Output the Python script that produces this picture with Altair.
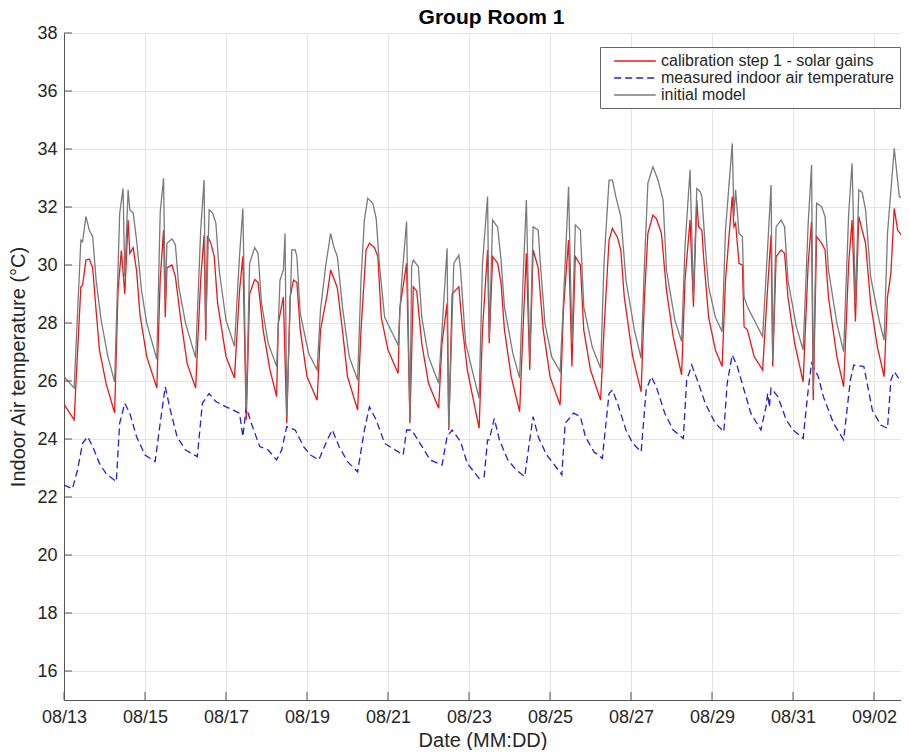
import altair as alt
import pandas as pd

# ---------------- data ----------------
series_names = [
    "calibration step 1 - solar gains",
    "measured indoor air temperature",
    "initial model",
]
series_colors = ["#f01414", "#1f1fe0", "#7a7a7a"]
series_dashes = [[1, 0], [7, 4], [1, 0]]
series_widths = [1.3, 1.3, 1.0]

start_date = "2017-08-13"
end_hours = 496  # last hour shown at the right edge

# calibration step 1 - solar gains (hours since 08/13 00:00, degC)
red_hours = [0, 6, 10, 11, 13, 15, 17, 19, 21, 25, 30,
             32, 34, 36, 38, 39, 41, 43, 45, 49, 55,
             57, 59, 60, 61, 64, 66, 69, 73, 78,
             81, 83, 84, 85, 87, 89, 91, 96, 101,
             104, 106, 108, 110, 113, 115, 118, 122, 126,
             127, 130, 132, 134, 136, 138, 140, 144, 150,
             152, 156, 158, 161, 162, 165, 168, 174,
             176, 179, 181, 184, 186, 188, 192, 198,
             199, 203, 205, 207, 209, 212, 216, 222,
             224, 227, 228, 230, 234, 236, 239, 246,
             248, 251, 252, 254, 257, 259, 261, 265, 270,
             272, 274, 276, 278, 281, 284, 288, 294,
             296, 299, 301, 303, 306, 308, 312, 318,
             320, 323, 325, 328, 330, 332, 337, 342,
             344, 346, 349, 351, 354, 357, 361, 366,
             368, 371, 373, 375, 376, 378, 379, 382, 386, 390,
             392, 396, 397, 398, 400, 402, 403, 405, 409, 414,
             417, 419, 420, 422, 425, 427, 429, 433, 438,
             441, 443, 444, 446, 449, 451, 453, 458, 462,
             465, 467, 469, 471, 473, 475, 478, 482, 486,
             488, 490, 492, 494, 497, 498, 500]
red_temp = [25.2, 24.66, 29.25, 29.3, 30.17, 30.2, 29.9, 28.45, 27.07, 25.9, 24.9,
            29.1, 30.5, 29.0, 31.55, 30.4, 30.6, 29.8, 28.3, 26.85, 25.76,
            29.5, 31.2, 28.2, 29.9, 30.0, 29.6, 28.2, 26.6, 25.76,
            29.5, 31.03, 27.4, 31.0, 30.76, 30.3, 28.7, 26.84, 26.1,
            29.1, 30.3, 24.66, 29.0, 29.5, 29.4, 27.76, 26.4, 25.46,
            27.99, 28.9, 24.54, 28.9, 29.48, 29.4, 27.76, 26.15, 25.34,
            27.76, 29.0, 29.83, 29.37, 29.2, 27.76, 26.15, 25.0,
            27.76, 30.52, 30.75, 30.6, 30.29, 28.2, 27.07, 26.26,
            28.5, 30.06, 24.54, 29.25, 29.1, 27.3, 25.92, 25.06,
            27.3, 28.68, 24.31, 29.0, 29.25, 27.9, 26.38, 24.37,
            27.76, 30.52, 27.3, 30.29, 30.06, 29.37, 27.76, 26.15, 24.94,
            27.76, 30.4, 26.38, 30.52, 29.9, 27.76, 26.15, 25.17,
            28.5, 30.86, 26.5, 30.29, 30.0, 27.76, 26.38, 25.34,
            27.76, 30.86, 31.26, 30.95, 30.5, 28.9, 26.84, 25.63,
            28.9, 31.09, 31.72, 31.6, 31.1, 29.14, 27.53, 26.21,
            29.48, 31.55, 28.56, 32.24, 31.32, 31.2, 30.29, 28.2, 27.07, 26.5,
            29.48, 32.36, 31.32, 31.44, 30.06, 30.0, 27.87, 27.76, 26.84, 26.38,
            29.25, 31.03, 26.5, 30.29, 30.52, 30.4, 28.9, 27.3, 25.97,
            30.06, 31.5, 25.34, 30.98, 30.75, 30.52, 28.9, 26.84, 25.8,
            30.06, 31.55, 28.05, 31.67, 31.2, 30.75, 28.68, 27.18, 26.15,
            28.9, 29.7, 31.95, 31.2, 30.98, 31.2, 28.3]

# measured indoor air temperature
blue_hours = [0, 5, 8, 11, 14, 17, 21, 25, 31,
              33, 36, 39, 43, 48, 54,
              57, 60, 63, 67, 72, 79,
              82, 86, 90, 96, 104, 106, 108, 111, 116, 121, 126,
              129, 132, 137, 142, 146, 151,
              156, 159, 163, 168, 174,
              178, 181, 185, 190, 201,
              203, 206, 211, 217, 224,
              227, 230, 235, 239, 246,
              249, 251, 252, 255, 258, 263, 268, 273,
              276, 278, 281, 286, 290, 295,
              297, 302, 306, 309, 314, 319,
              323, 325, 328, 333, 337, 342,
              345, 348, 351, 356, 361, 367,
              369, 372, 376, 380, 386, 391,
              393, 396, 399, 403, 407, 413,
              416, 417, 418, 419, 423, 428, 432, 438,
              441, 443, 447, 450, 456, 462,
              466, 468, 474, 476, 479, 484, 488,
              490, 492, 496, 500]
blue_temp = [22.41, 22.28, 22.93, 23.85, 24.08, 23.74, 23.16, 22.8, 22.53,
             24.55, 25.23, 24.89, 24.08, 23.45, 23.22,
             24.55, 25.8, 25.0, 24.08, 23.62, 23.39,
             25.23, 25.57, 25.29, 25.11, 24.89, 24.08, 25.1, 24.54, 23.74, 23.62, 23.28,
             23.62, 24.43, 24.31, 23.74, 23.45, 23.28,
             23.97, 24.31, 23.74, 23.22, 22.87,
             24.31, 25.11, 24.66, 23.85, 23.45,
             24.31, 24.31, 23.85, 23.28, 23.1,
             24.08, 24.31, 23.91, 23.16, 22.64,
             22.7, 23.97, 23.97, 24.71, 23.97, 23.28, 22.93, 22.7,
             23.97, 24.77, 24.08, 23.45, 23.16, 22.76,
             24.54, 24.89, 24.77, 24.08, 23.56, 23.33,
             25.57, 25.69, 25.23, 24.31, 23.85, 23.56,
             25.69, 26.15, 25.8, 24.89, 24.31, 24.02,
             26.03, 26.55, 25.92, 25.23, 24.54, 24.25,
             25.92, 26.9, 26.5, 25.69, 24.89, 24.31,
             25.11, 25.57, 25.1, 25.75, 25.46, 24.66, 24.31, 24.02,
             25.69, 26.61, 26.15, 25.46, 24.54, 23.97,
             26.03, 26.55, 26.5, 25.9, 25.0, 24.48, 24.37,
             26.03, 26.32, 25.97, 25.75]

# initial model
gray_hours = [0, 6, 10, 11, 13, 15, 17, 19, 22, 26, 30,
              33, 35, 36, 38, 39, 41, 43, 46, 49, 55,
              57, 59, 60, 61, 64, 66, 68, 72, 78,
              81, 83, 84, 86, 88, 90, 92, 96, 101,
              104, 106, 108, 110, 113, 115, 117, 121, 126,
              128, 130, 131, 132, 135, 137, 138, 140, 145, 150,
              152, 155, 158, 160, 162, 165, 169, 174,
              176, 178, 180, 183, 185, 187, 190, 198,
              200, 203, 205, 206, 207, 210, 212, 216, 222,
              224, 227, 228, 231, 234, 235, 238, 246,
              248, 251, 252, 254, 257, 259, 261, 266, 270,
              272, 274, 276, 278, 281, 282, 285, 289, 294,
              297, 299, 301, 303, 306, 308, 313, 318,
              320, 323, 325, 327, 330, 333, 338, 342,
              344, 346, 349, 352, 355, 357, 362, 366,
              368, 371, 373, 375, 377, 378, 380, 382, 386, 390,
              392, 396, 397, 398, 400, 402, 403, 405, 410, 414,
              417, 419, 420, 422, 425, 427, 429, 434, 438,
              441, 443, 444, 446, 449, 451, 453, 458, 462,
              465, 467, 469, 471, 473, 475, 478, 483, 486,
              488, 492, 495, 497, 500]
gray_temp = [26.15, 25.76, 30.86, 30.8, 31.67, 31.2, 30.98, 29.5, 28.1, 26.84, 25.97,
             31.78, 32.64, 29.6, 32.59, 31.9, 31.8, 30.86, 29.1, 28.0, 26.75,
             31.8, 32.99, 28.7, 30.75, 30.9, 30.7, 29.25, 28.0, 26.8,
             31.2, 32.93, 27.76, 31.9, 31.8, 31.44, 29.8, 28.1, 27.2,
             30.3, 31.95, 25.0, 30.06, 30.6, 30.4, 28.7, 27.3, 26.5,
             29.48, 29.83, 31.09, 24.77, 30.52, 30.52, 30.3, 28.33, 26.95, 26.38,
             28.45, 29.94, 31.09, 30.6, 30.29, 28.56, 26.84, 26.03,
             29.48, 31.55, 32.3, 32.13, 31.6, 29.94, 28.2, 27.24,
             29.37, 31.5, 24.6, 29.94, 30.17, 29.94, 28.2, 26.84, 25.92,
             27.76, 30.58, 24.4, 30.06, 30.34, 29.83, 27.3, 25.4,
             30.06, 32.36, 27.5, 31.55, 31.3, 30.17, 28.56, 26.95, 26.1,
             29.48, 32.24, 26.7, 31.32, 31.2, 30.29, 27.99, 26.84, 26.32,
             30.06, 32.7, 27.3, 31.38, 31.2, 28.56, 27.18, 26.44,
             30.06, 32.93, 32.93, 32.36, 31.67, 29.48, 27.76, 26.78,
             30.06, 32.82, 33.39, 32.93, 32.24, 29.83, 28.1, 27.36,
             30.63, 33.28, 28.9, 32.64, 32.53, 32.36, 30.63, 29.25, 28.2, 27.7,
             31.2, 34.2, 31.67, 32.59, 31.09, 30.98, 28.9, 28.56, 27.99, 27.53,
             30.63, 32.76, 26.72, 31.32, 31.55, 31.32, 29.48, 27.87, 27.07,
             31.44, 33.45, 25.69, 32.13, 32.01, 31.67, 29.83, 27.99, 27.01,
             31.78, 33.51, 28.68, 32.59, 32.5, 31.9, 29.6, 28.1, 27.41,
             31.09, 34.02, 32.36, 32.3, 31.44]

x_tick_dates = ["2017-08-13", "2017-08-15", "2017-08-17", "2017-08-19", "2017-08-21",
                "2017-08-23", "2017-08-25", "2017-08-27", "2017-08-29", "2017-08-31",
                "2017-09-02"]
y_ticks = [16, 18, 20, 22, 24, 26, 28, 30, 32, 34, 36, 38]
y_domain = [15, 38]

# ---------------- build tables ----------------
def to_dt(ts):
    ts = pd.Timestamp(ts)
    return alt.DateTime(year=ts.year, month=ts.month, date=ts.day,
                        hours=ts.hour, minutes=ts.minute)


def frame(hours, temps, name):
    t = pd.Timestamp(start_date) + pd.to_timedelta(hours, unit="h")
    return pd.DataFrame({"time": t.strftime("%Y-%m-%dT%H:%M:%S"),
                         "temp": temps, "series": name})


df = pd.concat([
    frame(red_hours, red_temp, series_names[0]),
    frame(blue_hours, blue_temp, series_names[1]),
    frame(gray_hours, gray_temp, series_names[2]),
], ignore_index=True)

x_start = pd.Timestamp(start_date)
x_end = x_start + pd.Timedelta(hours=end_hours)
x_domain = [to_dt(x_start), to_dt(x_end)]
x_values = [to_dt(d) for d in x_tick_dates]

W, H = 837, 667
FONT = "Liberation Sans"
AXIS_COLOR = "#555555"
TEXT_COLOR = "#262626"

x_scale = alt.Scale(domain=x_domain, nice=False)
y_scale = alt.Scale(domain=y_domain, nice=False, zero=False)

lines = alt.Chart(df).mark_line(clip=True).encode(
    x=alt.X("time:T", scale=x_scale, title="Date (MM:DD)",
            axis=alt.Axis(values=x_values, format="%m/%d", ticks=False,
                          labelFontSize=18, labelPadding=8, labelColor=TEXT_COLOR,
                          labelFont=FONT, titleFont=FONT, titleFontSize=20,
                          titleFontWeight="normal", titleColor=TEXT_COLOR,
                          titlePadding=4, domainColor=AXIS_COLOR,
                          gridColor="#e4e4e4", gridWidth=1, labelFlush=False)),
    y=alt.Y("temp:Q", scale=y_scale, title="Indoor Air temperature (°C)",
            axis=alt.Axis(values=y_ticks, ticks=False,
                          labelFontSize=18, labelPadding=7, labelColor=TEXT_COLOR,
                          labelFont=FONT, titleFont=FONT, titleFontSize=20,
                          titleFontWeight="normal", titleColor=TEXT_COLOR,
                          titlePadding=8, domainColor=AXIS_COLOR,
                          gridColor="#e4e4e4", gridWidth=1)),
    color=alt.Color("series:N",
                    scale=alt.Scale(domain=series_names, range=series_colors),
                    sort=series_names,
                    legend=alt.Legend(title=None, orient="none", legendX=536, legendY=14,
                                      symbolType="M-2.6,0H2.6", symbolSize=256,
                                      symbolStrokeWidth=1.3, symbolOffset=21,
                                      labelOffset=17, labelFontSize=16, labelFont=FONT,
                                      labelColor=TEXT_COLOR, labelLimit=400,
                                      rowPadding=0, padding=5,
                                      strokeColor="#666666", fillColor="white")),
    strokeDash=alt.StrokeDash("series:N",
                              scale=alt.Scale(domain=series_names, range=series_dashes),
                              sort=series_names, legend=None),
    strokeWidth=alt.StrokeWidth("series:N",
                                scale=alt.Scale(domain=series_names, range=series_widths),
                                legend=None),
)

# inward tick marks (MATLAB style)
ytick_df = pd.DataFrame({"temp": y_ticks})
yticks = alt.Chart(ytick_df).mark_rule(color=AXIS_COLOR, strokeWidth=1).encode(
    y=alt.Y("temp:Q", scale=y_scale),
    x=alt.value(0), x2=alt.value(8),
)
xtick_df = pd.DataFrame({"time": [d + "T00:00:00" for d in x_tick_dates]})
xticks = alt.Chart(xtick_df).mark_rule(color=AXIS_COLOR, strokeWidth=1).encode(
    x=alt.X("time:T", scale=x_scale),
    y=alt.value(H), y2=alt.value(H - 8),
)

chart = alt.layer(lines, yticks, xticks).properties(
    width=W, height=H,
    title=alt.TitleParams("Group Room 1", font=FONT, fontSize=21, fontWeight="bold",
                          color="#000000", anchor="middle", offset=-4, dx=9,
                          frame="group"),
    autosize=alt.AutoSizeParams(type="none"),
    padding={"left": 56, "top": 25, "right": 0, "bottom": 50},
).configure_view(strokeWidth=0).configure(background="white")

chart.save("out.html", embed_options={"renderer": "svg", "actions": False})
